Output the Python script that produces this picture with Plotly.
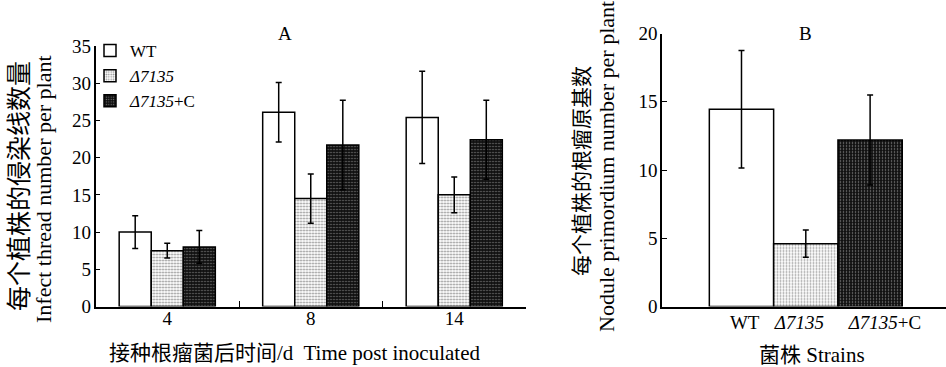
import plotly.graph_objects as go

# ---------------- data ----------------
days = ["4", "8", "14"]
wt_threads = [10.0, 26.1, 25.4]
wt_threads_err = [2.2, 4.0, 6.2]
d7135_threads = [7.5, 14.5, 15.0]
d7135_threads_err = [1.0, 3.3, 2.4]
comp_threads = [8.0, 21.7, 22.4]
comp_threads_err = [2.2, 6.0, 5.3]

strain_labels = ["WT", "<i>Δ7135</i>", "<i>Δ7135</i>+C"]
primordia = [14.45, 4.6, 12.2]
primordia_err = [4.3, 1.0, 3.3]

W, H = 946, 367
FONT = "Liberation Serif, Noto Sans CJK SC, serif"

def px(x):
    return x / W

def py(y):
    return 1 - y / H

fig = go.Figure()

err_style = dict(type="data", color="black", thickness=1.5, width=3)
line_style = dict(color="black", width=1.5)

# ---------------- panel A ----------------
fig.add_trace(go.Bar(
    x=days, y=wt_threads, name="WT",
    marker=dict(color="white", line=line_style),
    error_y=dict(array=wt_threads_err, **err_style),
    xaxis="x", yaxis="y",
))
fig.add_trace(go.Bar(
    x=days, y=d7135_threads, name="<i>Δ7135</i>",
    marker=dict(color="white", line=line_style,
                pattern=dict(shape=".", fgcolor="#222", bgcolor="white",
                             size=3, solidity=0.35)),
    error_y=dict(array=d7135_threads_err, **err_style),
    xaxis="x", yaxis="y",
))
fig.add_trace(go.Bar(
    x=days, y=comp_threads, name="<i>Δ7135</i>+C",
    marker=dict(color="#111111", line=line_style,
                pattern=dict(shape=".", fgcolor="#dddddd", bgcolor="#111111",
                             size=3, solidity=0.2)),
    error_y=dict(array=comp_threads_err, **err_style),
    xaxis="x", yaxis="y",
))

# ---------------- panel B ----------------
strain_pos = list(range(len(strain_labels)))
fig.add_trace(go.Bar(
    x=strain_pos, y=primordia, width=1, showlegend=False,
    marker=dict(color=["white", "white", "#111111"], line=line_style,
                pattern=dict(shape=["", ".", "."],
                             fgcolor=["black", "#222", "#dddddd"],
                             bgcolor=["white", "white", "#111111"],
                             size=3, solidity=[0.3, 0.35, 0.2])),
    error_y=dict(array=primordia_err, **err_style),
    xaxis="x2", yaxis="y2",
))

axis_common = dict(showline=True, linecolor="black", linewidth=1.5,
                   showgrid=False, zeroline=False, tickcolor="black",
                   automargin=False,
                   tickfont=dict(size=19, color="black", family=FONT))

fig.update_layout(
    width=W, height=H, autosize=False,
    margin=dict(l=0, r=0, t=0, b=0, pad=0, autoexpand=False),
    paper_bgcolor="white", plot_bgcolor="white",
    font=dict(family=FONT, color="black", size=18),
    barmode="group", bargap=0.33, bargroupgap=0,
    xaxis=dict(domain=[px(95.5), px(526)], type="category", range=[-0.5, 2.5],
               ticks="inside", tickson="boundaries", ticklen=6, tickwidth=1.2,
               ticklabelstandoff=-6, anchor="y", **axis_common),
    yaxis=dict(domain=[py(306.5), py(46)], range=[0, 35], dtick=5,
               ticks="inside", ticklen=5, tickwidth=1.2, anchor="x",
               ticklabelstandoff=-1, **axis_common),
    xaxis2=dict(domain=[px(662), 1.0], range=[-1.236, 3.18],
                ticks="", tickmode="array", tickvals=[0.05, 0.9, 2.23],
                ticktext=strain_labels, anchor="y2", ticklabelstandoff=-2,
                **axis_common),
    yaxis2=dict(domain=[py(306.5), py(33.5)], range=[0, 20], dtick=5,
                ticks="inside", ticklen=5, tickwidth=1.2, anchor="x2",
                ticklabelstandoff=-1, **axis_common),
    legend=dict(x=px(90), y=py(33), xanchor="left", yanchor="top",
                bgcolor="rgba(0,0,0,0)", font=dict(size=17, family=FONT),
                tracegroupgap=0, itemwidth=30),
    showlegend=True,
)

def ann(text, x, y, size, angle=0):
    fig.add_annotation(text=text, x=px(x), y=py(y), xref="paper", yref="paper",
                       xanchor="center", yanchor="middle", showarrow=False,
                       textangle=angle, font=dict(size=size, family=FONT, color="black"))

ann("A", 285, 33, 19)
ann("B", 805, 33, 19)
ann("每个植株的侵染线数量", 19, 186, 25, -90)
ann("Infect thread number per plant", 43, 189, 22, -90)
ann("每个植株的根瘤原基数", 582, 171, 21, -90)
ann("Nodule primordium number per plant", 607, 167, 22, -90)
ann("接种根瘤菌后时间/d  Time post inoculated", 295, 353, 21)
ann("菌株 Strains", 812, 355, 21)

fig.write_html("out.html", config=dict(displayModeBar=False),
               post_script="document.body.style.margin='0';document.body.style.overflow='hidden';")
